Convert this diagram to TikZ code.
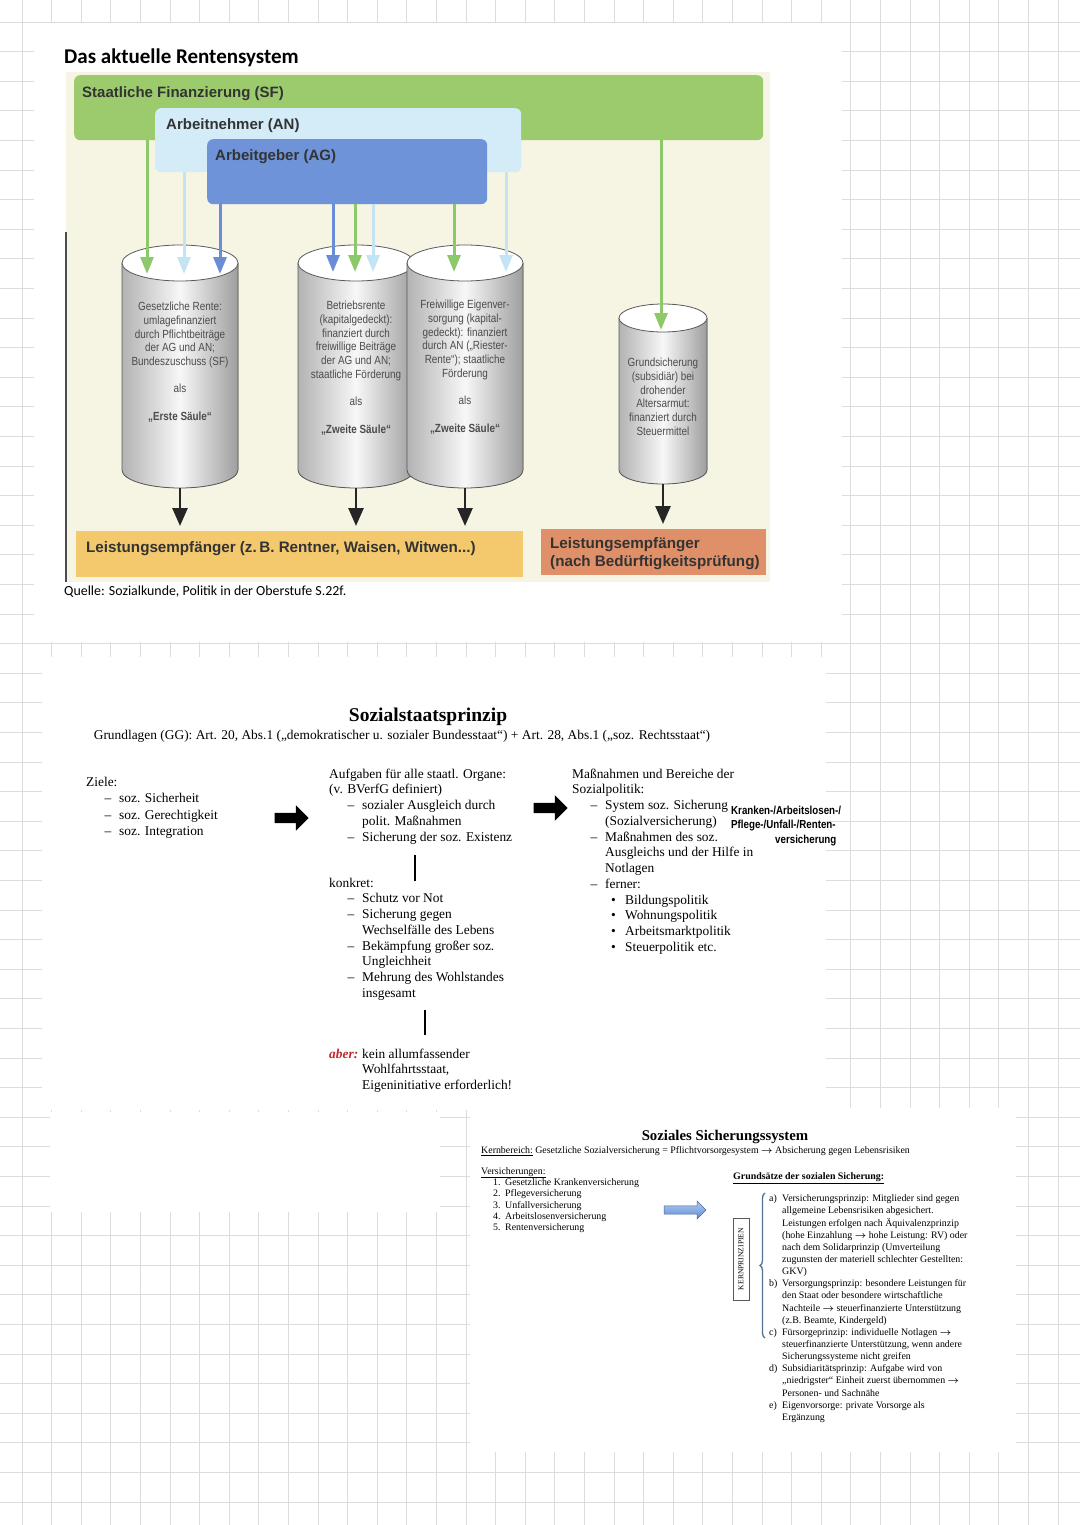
\documentclass[tikz,border=0pt]{standalone}
\usepackage{fontspec}
\setmainfont{Liberation Serif}
\newfontfamily\arialfont{Liberation Sans}
\newfontfamily\schmalfont[FakeStretch=0.84]{Liberation Sans}
\newfontfamily\calibrifont{Carlito}
\usetikzlibrary{arrows.meta,positioning,shapes.arrows,decorations.pathreplacing}

\definecolor{gridgray}{HTML}{DCDCDC}
\definecolor{cream}{HTML}{F6F4E2}
\definecolor{sfgreen}{HTML}{9CCB6E}
\definecolor{anblue}{HTML}{D3ECF8}
\definecolor{agblue}{HTML}{6E93D9}
\definecolor{arrgreen}{HTML}{8DC96A}
\definecolor{arrlight}{HTML}{C4E4F4}
\definecolor{arrblue}{HTML}{6A8ED6}
\definecolor{gelb}{HTML}{F4C96D}
\definecolor{orangebox}{HTML}{DF9069}
\definecolor{textgray}{HTML}{333333}
\definecolor{aberred}{HTML}{C1272D}
\definecolor{bracegray}{HTML}{52708F}
\definecolor{pfeilblau}{HTML}{5B8DD6}

% list helpers
\newcommand{\strich}{\makebox[33pt][l]{\hspace{18.5pt}–}}
\newcommand{\weiter}{\hspace*{33pt}}
\newcommand{\punkt}{\makebox[53pt][l]{\hspace{39pt}\textbullet}}
\newcommand{\nummer}[1]{\makebox[24pt][l]{\hspace{12pt}#1}}
\newcommand{\buchst}[1]{\makebox[13pt][l]{#1}}
\newcommand{\einr}{\hspace*{13pt}}
\newcommand{\pfeil}{\mbox{\boldmath$\rightarrow$}}

% pillar: name, cx, top y, bottom y, rx, ry
\newcommand{\saeule}[6]{%
  \fill[left color=black!30, right color=black!38, middle color=white!97!black]
    ({#2-#5},#3) -- ({#2-#5},#4)
    .. controls ({#2-#5},{#4+0.5523*#6}) and ({#2-0.5523*#5},{#4+#6}) .. (#2,{#4+#6})
    .. controls ({#2+0.5523*#5},{#4+#6}) and ({#2+#5},{#4+0.5523*#6}) .. ({#2+#5},#4)
    -- ({#2+#5},#3) -- cycle;
  \draw[black!65, line width=0.8pt]
    ({#2-#5},#3) -- ({#2-#5},#4)
    .. controls ({#2-#5},{#4+0.5523*#6}) and ({#2-0.5523*#5},{#4+#6}) .. (#2,{#4+#6})
    .. controls ({#2+0.5523*#5},{#4+#6}) and ({#2+#5},{#4+0.5523*#6}) .. ({#2+#5},#4)
    -- ({#2+#5},#3);
  \filldraw[fill=white, draw=black!65, line width=0.8pt] (#2,#3) ellipse[x radius=#5, y radius=#6];
  \coordinate (#1-top) at (#2,#3);
  \coordinate (#1-bot) at (#2,{#4+#6});
}

\begin{document}
\begin{tikzpicture}[
    x=1pt, y=-1pt,
    gridline/.style={draw=gridgray, line width=0.8pt},
    paper/.style={fill=white, draw=none},
    band/.style={
        rectangle,
        rounded corners=6pt,
        anchor=north west,
        inner sep=0pt
    },
    bandlabel/.style={
        anchor=west,
        inner sep=0pt,
        text=textgray,
        font=\arialfont\bfseries\fontsize{15}{17}\selectfont
    },
    saeulentext/.style={
        anchor=north,
        align=center,
        inner sep=0pt,
        text=black!70,
        font=\schmalfont\fontsize{11.8}{13.7}\selectfont
    },
    zufluss/.style={line width=3pt, -{Triangle[width=13pt,length=17pt]}},
    ausgabe/.style={line width=2.6pt, black!85, -{Triangle[width=15pt,length=18pt]}, shorten >=5pt},
    fliesstext/.style={
        anchor=north west,
        align=left,
        inner sep=0pt,
        font=\fontsize{13.4}{15.75}\selectfont
    },
    klein/.style={
        anchor=north west,
        align=left,
        inner sep=0pt,
        font=\fontsize{9.9}{11.35}\selectfont
    },
    prinzip/.style={
        anchor=north west,
        align=left,
        inner sep=0pt,
        font=\fontsize{9.9}{12.15}\selectfont
    },
    blockpfeil/.style={
        single arrow,
        fill=black,
        draw=none,
        inner sep=5pt,
        minimum height=34pt,
        minimum width=25pt,
        single arrow head extend=7.5pt,
        single arrow head indent=0pt
    },
    trenner/.style={line width=2.4pt, black}
]
\useasboundingbox (0,0) rectangle (1080,1525);

% graph paper
\foreach \gk in {0,...,36} {
    \draw[gridline] ({22+29.6*\gk},0) -- ({22+29.6*\gk},1525);
}
\foreach \gk in {0,...,50} {
    \draw[gridline] (0,{22+29.6*\gk}) -- (1080,{22+29.6*\gk});
}
\fill[paper] (34,23) rectangle (842,642);
\fill[paper] (42,657) rectangle (826,1110);
\fill[paper] (50,1112) rectangle (440,1212);
\fill[paper] (470,1108) rectangle (1016,1452);

% ---------- Rentensystem ----------
\node[anchor=west, inner sep=0pt, font=\calibrifont\bfseries\fontsize{21}{25}\selectfont] (titel) at (64,58) {Das aktuelle Rentensystem};
\fill[cream] (66,72) rectangle (770,582);
\draw[black!70, line width=1.4pt] (66,232) -- (66,582);

\node[band, fill=sfgreen, minimum width=689pt, minimum height=65pt] (sf) at (74,75) {};
\node[band, fill=anblue, minimum width=366pt, minimum height=64pt] (an) at (155,108) {};
\node[band, fill=agblue, minimum width=280pt, minimum height=65pt] (ag) at (207,139) {};
\node[bandlabel] (sflabel) at (82,94) {Staatliche Finanzierung (SF)};
\node[bandlabel] (anlabel) at (166,126) {Arbeitnehmer (AN)};
\node[bandlabel] (aglabel) at (215,157) {Arbeitgeber (AG)};

\saeule{s1}{180}{263}{470}{58}{18}
\saeule{s2}{356}{263}{470}{58}{18}
\saeule{s3}{465}{263}{470}{58}{18}
\saeule{s4}{663}{318}{470}{44}{14}

\coordinate (e1g) at (147,274);
\coordinate (e1l) at (184,274);
\coordinate (e1b) at (220,274);
\coordinate (e2b) at (333,272);
\coordinate (e2g) at (355,272);
\coordinate (e2l) at (373,272);
\coordinate (e3g) at (454,272);
\coordinate (e3l) at (506,272);
\coordinate (e4g) at (661,330);
\draw[zufluss, arrgreen] (e1g |- sf.south) -- (e1g);
\draw[zufluss, arrlight] (e1l |- an.south) -- (e1l);
\draw[zufluss, arrblue] (e1b |- ag.south) -- (e1b);
\draw[zufluss, arrblue] (e2b |- ag.south) -- (e2b);
\draw[zufluss, arrgreen] (e2g |- ag.south) -- (e2g);
\draw[zufluss, arrlight] (e2l |- ag.south) -- (e2l);
\draw[zufluss, arrgreen] (e3g |- ag.south) -- (e3g);
\draw[zufluss, arrlight] (e3l |- an.south) -- (e3l);
\draw[zufluss, arrgreen] (e4g |- sf.south) -- (e4g);

\node[saeulentext] (t1) at (180,301) {\strut Gesetzliche Rente:\\umlagefinanziert\\durch Pflichtbeiträge\\der AG und AN;\\Bundeszuschuss (SF)\\[13.7pt]als\\[13.7pt]\textbf{„Erste Säule“}};
\node[saeulentext] (t2) at (356,300) {\strut Betriebsrente\\(kapitalgedeckt):\\finanziert durch\\freiwillige Beiträge\\der AG und AN;\\staatliche Förderung\\[13.7pt]als\\[13.7pt]\textbf{„Zweite Säule“}};
\node[saeulentext] (t3) at (465,299) {\strut Freiwillige Eigenver-\\sorgung (kapital-\\gedeckt): finanziert\\durch AN („Riester-\\Rente“); staatliche\\Förderung\\[13.7pt]als\\[13.7pt]\textbf{„Zweite Säule“}};
\node[saeulentext] (t4) at (663,357) {\strut Grundsicherung\\(subsidiär) bei\\drohender\\Altersarmut:\\finanziert durch\\Steuermittel};

\node[band, fill=gelb, rounded corners=0pt, minimum width=447pt, minimum height=46pt] (gelb) at (76,531) {};
\node[band, fill=orangebox, rounded corners=0pt, minimum width=225pt, minimum height=46pt] (orange) at (541,529) {};
\node[bandlabel, font=\arialfont\bfseries\fontsize{15.2}{18.5}\selectfont] (gelblabel) at (86,549) {Leistungsempfänger (z.\,B. Rentner, Waisen, Witwen...)};
\node[bandlabel, align=left, font=\arialfont\bfseries\fontsize{15.2}{18.5}\selectfont] (orangelabel) at (550,553.5) {Leistungsempfänger\\(nach Bedürftigkeitsprüfung)};

\draw[ausgabe] (s1-bot) -- (s1-bot |- gelb.north);
\draw[ausgabe] (s2-bot) -- (s2-bot |- gelb.north);
\draw[ausgabe] (s3-bot) -- (s3-bot |- gelb.north);
\draw[ausgabe] (s4-bot) -- (s4-bot |- orange.north);

\node[anchor=west, inner sep=0pt, font=\calibrifont\fontsize{13.9}{16}\selectfont] (quelle) at (64,592) {Quelle: Sozialkunde, Politik in der Oberstufe S.22f.};

% ---------- Sozialstaatsprinzip ----------
\node[inner sep=0pt, font=\bfseries\fontsize{19.5}{23}\selectfont] (sozprinzip) at (428,717) {Sozialstaatsprinzip};
\node[inner sep=0pt, font=\fontsize{13.4}{15.75}\selectfont] (grundlagen) at (402,736) {Grundlagen (GG): Art. 20, Abs.1 („demokratischer u. sozialer Bundesstaat“) + Art. 28, Abs.1 („soz. Rechtsstaat“)};

\node[fliesstext, font=\fontsize{13.4}{16.3}\selectfont] (ziele) at (86,775) {\strut Ziele:\\\strich soz. Sicherheit\\\strich soz. Gerechtigkeit\\\strich soz. Integration};
\node[blockpfeil] (pf1) at (289,818) {};

\node[fliesstext] (aufgaben) at (329,767) {\strut Aufgaben für alle staatl. Organe:\\(v. BVerfG definiert)\\\strich sozialer Ausgleich durch\\\weiter polit. Maßnahmen\\\strich Sicherung der soz. Existenz};
\coordinate (v1o) at (415,855);
\coordinate (v1u) at (415,881);
\draw[trenner] (v1o) -- (v1u);
\node[fliesstext] (konkret) at (329,876) {\strut konkret:\\\strich Schutz vor Not\\\strich Sicherung gegen\\\weiter Wechselfälle des Lebens\\\strich Bekämpfung großer soz.\\\weiter Ungleichheit\\\strich Mehrung des Wohlstandes\\\weiter insgesamt};
\coordinate (v2o) at (425,1010);
\coordinate (v2u) at (425,1035);
\draw[trenner] (v2o) -- (v2u);
\node[fliesstext] (aber) at (329,1047) {\strut\makebox[33pt][l]{\textcolor{aberred}{\bfseries\itshape aber:}}kein allumfassender\\\weiter Wohlfahrtsstaat,\\\weiter Eigeninitiative erforderlich!};

\node[blockpfeil] (pf2) at (548,808) {};
\node[fliesstext] (massnahmen) at (572,767) {\strut Maßnahmen und Bereiche der\\Sozialpolitik:\\\strich System soz. Sicherung\\\weiter (Sozialversicherung)\\\strich Maßnahmen des soz.\\\weiter Ausgleichs und der Hilfe in\\\weiter Notlagen\\\strich ferner:\\\punkt Bildungspolitik\\\punkt Wohnungspolitik\\\punkt Arbeitsmarktpolitik\\\punkt Steuerpolitik etc.};
\node[anchor=north west, align=left, inner sep=0pt, font=\schmalfont\bfseries\fontsize{11.6}{14.5}\selectfont] (notiz) at (731,804) {\strut Kranken-/Arbeitslosen-/\\Pflege-/Unfall-/Renten-\\\hspace*{44pt}versicherung};

% ---------- Soziales Sicherungssystem ----------
\node[inner sep=0pt, font=\bfseries\fontsize{14.8}{17}\selectfont] (sichsys) at (725,1137) {Soziales Sicherungssystem};
\node[klein, anchor=west] (kern) at (481,1151) {\underline{Kernbereich:} Gesetzliche Sozialversicherung = Pflichtvorsorgesystem \pfeil\ Absicherung gegen Lebensrisiken};
\node[klein] (versicherungen) at (481,1166) {\strut\underline{Versicherungen:}\\\nummer{1.}Gesetzliche Krankenversicherung\\\nummer{2.}Pflegeversicherung\\\nummer{3.}Unfallversicherung\\\nummer{4.}Arbeitslosenversicherung\\\nummer{5.}Rentenversicherung};
\node[single arrow, draw=pfeilblau!75!black, line width=0.5pt, top color=pfeilblau!45!white, bottom color=pfeilblau, inner sep=3.5pt, minimum height=42pt, minimum width=18pt, single arrow head extend=4.5pt, single arrow head indent=0pt] (pf3) at (683,1210) {};

\node[klein, anchor=west, font=\bfseries\fontsize{9.9}{11.35}\selectfont] (grundsaetze) at (733,1178) {\underline{Grundsätze der sozialen Sicherung:}};
\node[draw=black!65, line width=0.6pt, rotate=90, inner sep=2pt, minimum width=82pt, minimum height=16pt, font=\fontsize{7.6}{8}\selectfont] (kernprinz) at (741,1259) {KERNPRINZIPIEN};
\draw[bracegray, line width=1.3pt, decorate, decoration={brace, amplitude=5pt}] (765,1338) -- (765,1193);
\node[prinzip] (prinzipien) at (769,1193) {\strut\buchst{a)}Versicherungsprinzip: Mitglieder sind gegen\\\einr allgemeine Lebensrisiken abgesichert.\\\einr Leistungen erfolgen nach Äquivalenzprinzip\\\einr (hohe Einzahlung \pfeil\ hohe Leistung: RV) oder\\\einr nach dem Solidarprinzip (Umverteilung\\\einr zugunsten der materiell schlechter Gestellten:\\\einr GKV)\\\buchst{b)}Versorgungsprinzip: besondere Leistungen für\\\einr den Staat oder besondere wirtschaftliche\\\einr Nachteile \pfeil\ steuerfinanzierte Unterstützung\\\einr (z.B. Beamte, Kindergeld)\\\buchst{c)}Fürsorgeprinzip: individuelle Notlagen \pfeil\\\einr steuerfinanzierte Unterstützung, wenn andere\\\einr Sicherungssysteme nicht greifen\\\buchst{d)}Subsidiaritätsprinzip: Aufgabe wird von\\\einr „niedrigster“ Einheit zuerst übernommen \pfeil\\\einr Personen- und Sachnähe\\\buchst{e)}Eigenvorsorge: private Vorsorge als\\\einr Ergänzung};
\end{tikzpicture}
\end{document}
